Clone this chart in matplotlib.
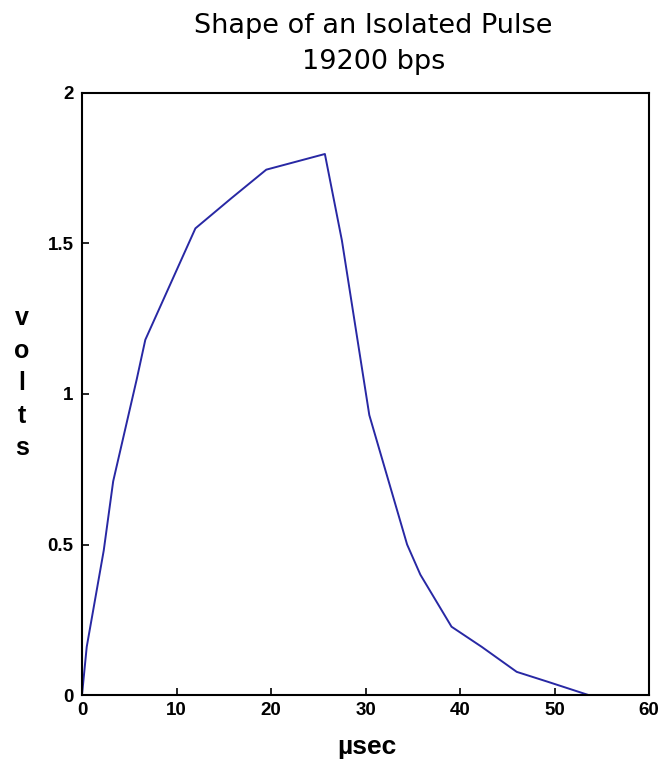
import matplotlib
matplotlib.use("Agg")
import matplotlib.pyplot as plt
from matplotlib.font_manager import FontProperties

# pulse shape
t_us = [0.0, 0.5, 2.3, 3.3, 5.8, 6.7, 12.0, 15.8, 19.5, 25.7, 27.5, 30.4, 34.4, 35.8, 39.1, 42.3, 46.0, 49.3, 53.6]
volts = [0.0, 0.16, 0.48, 0.71, 1.05, 1.18, 1.55, 1.65, 1.745, 1.797, 1.51, 0.93, 0.50, 0.40, 0.227, 0.16, 0.077, 0.044, 0.0]

x_ticks = [0, 10, 20, 30, 40, 50, 60]
y_ticks = [0, 0.5, 1, 1.5, 2]
y_tick_labels = ["0", "0.5", "1", "1.5", "2"]

fig = plt.figure(figsize=(6.65, 7.74), dpi=100)
ax = fig.add_axes([0.1233, 0.102, 0.976 - 0.1233, 0.880 - 0.102])

ax.plot(t_us, volts, color="#2828a4", lw=1.4)

ax.set_xlim(0, 60)
ax.set_ylim(0, 2)
ax.set_xticks(x_ticks)
ax.set_yticks(y_ticks)
ax.set_yticklabels(y_tick_labels)

tick_fp = FontProperties(family=["Liberation Sans Narrow", "Liberation Sans", "DejaVu Sans"],
                         weight="bold", size=13.5)
for lab in ax.get_xticklabels() + ax.get_yticklabels():
    lab.set_fontproperties(tick_fp)

ax.tick_params(direction="in", length=5, width=1.2, top=False, right=False)
ax.tick_params(axis="x", pad=5)
ax.tick_params(axis="y", pad=6)
for sp in ax.spines.values():
    sp.set_linewidth(1.5)

fig.text(0.562, 0.966, "Shape of an Isolated Pulse", ha="center", va="center",
         fontsize=19.5, family="DejaVu Sans")
fig.text(0.562, 0.920, "19200 bps", ha="center", va="center",
         fontsize=19.5, family="DejaVu Sans")

fig.text(0.552, 0.035, "\u00b5sec", ha="center", va="center",
         fontsize=19, family="Liberation Sans", weight="bold")
fig.text(0.033, 0.505, "v\no\nl\nt\ns", ha="center", va="center",
         fontsize=18, family="Liberation Sans", weight="bold", linespacing=1.45)

fig.savefig("out.png", dpi=100)
